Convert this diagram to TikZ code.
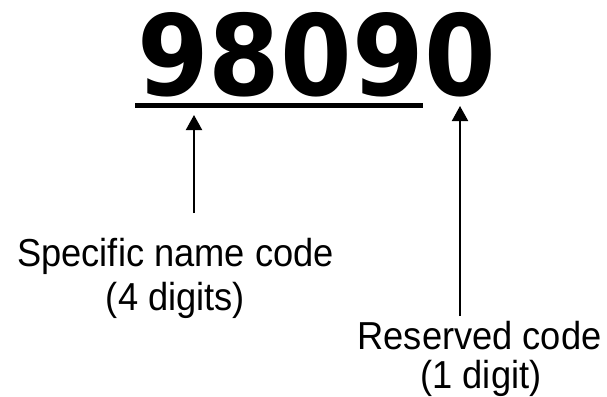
\documentclass[tikz,border=0pt]{standalone}
\usepackage{fontspec}
\setmainfont{Liberation Sans}
\newfontfamily\digitfont{DejaVu Sans}
\usetikzlibrary{arrows.meta}
\newcommand\sqtext[1]{\scalebox{0.93}[1]{#1}}
\begin{document}
\begin{tikzpicture}[x=1pt,y=-1pt,
  lbl/.style={inner sep=0pt,anchor=base,font=\fontsize{39}{42}\selectfont},
  arr/.style={line width=2pt,-{Triangle[width=16pt,length=15pt]}}]
\useasboundingbox (0,0) rectangle (607,396);
\node[inner sep=0pt,anchor=base] (num) at (316.5,95)
  {\scalebox{0.92}[1]{\digitfont\bfseries\fontsize{112}{112}\selectfont 98090}};
\draw[line width=5.5pt] (135,105.5) coordinate (ul1) -- (423,105.5) coordinate (ul2);
\node[lbl] (spec1) at (175.5,266) {\sqtext{Specific name code}};
\node[lbl] (spec2) at (175.5,310) {\sqtext{(4 digits)}};
\node[lbl] (res1) at (479.5,349) {\sqtext{Reserved code}};
\node[lbl] (res2) at (481,388) {\sqtext{(1 digit)}};
\coordinate (t1) at (194,213);
\coordinate (h1) at (194,115);
\coordinate (t2) at (460,316);
\coordinate (h2) at (460,106);
\draw[arr] (t1) -- (h1);
\draw[arr] (t2) -- (h2);
\end{tikzpicture}
\end{document}
